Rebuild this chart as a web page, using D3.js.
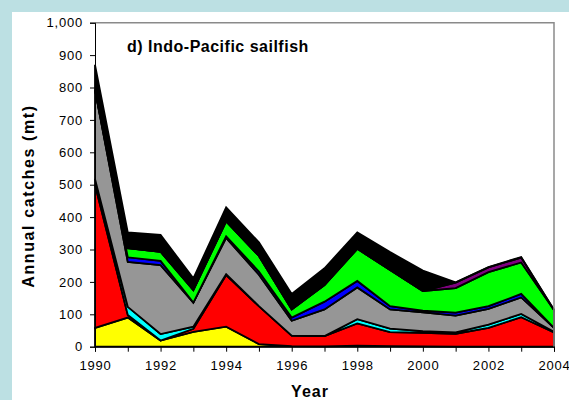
<!DOCTYPE html>
<html><head><meta charset="utf-8">
<script src="https://cdn.jsdelivr.net/npm/d3@7"></script>
<style>
html,body{margin:0;padding:0;background:#bce0e3;}
svg{display:block;}
text{font-family:"Liberation Sans",Arial,sans-serif;}
</style></head>
<body>
<svg id="c" width="569" height="400"></svg>
<script>
const years = [1990,1991,1992,1993,1994,1995,1996,1997,1998,1999,2000,2001,2002,2003,2004];
const yellow = [58,90,19,46,62,8,2,1,3,2,1,0,0,0,0];
const red    = [442,8,0,9,159,117,32,32,69,43,42,40,58,91,44];
const cyan   = [18,25,20,7,3,0,0,0,13,11,5,4,10,10,2];
const gray   = [275,139,213,74,112,97,46,82,98,59,58,52,49,51,12];
const blue   = [0,14,13,0,5,10,10,24,20,10,5,9,8,11,0];
const green  = [0,28,28,39,46,48,25,51,99,112,61,76,105,97,55];
const purple = [0,0,0,0,0,0,0,0,0,0,0,17,15,15,0];
const black  = [77,49,52,36,43,42,48,52,51,55,63,1,1,2,1];
const yTicks = [0,100,200,300,400,500,600,700,800,900,1000];
const xLabelYears = [1990,1992,1994,1996,1998,2000,2002,2004];
const seriesNames = ["yellow","red","cyan","gray","blue","green","purple","black"];
const seriesData = {yellow,red,cyan,gray,blue,green,purple,black};
const colors = {yellow:"#ffff00",red:"#ff0000",cyan:"#00ffff",gray:"#969696",blue:"#0000ff",green:"#00ff00",purple:"#800080",black:"#000000"};

const rows = years.map((yr,i)=>{const o={year:yr};seriesNames.forEach(k=>o[k]=seriesData[k][i]);return o;});
const stack = d3.stack().keys(seriesNames)(rows);

const svg = d3.select("#c");
svg.append("rect").attr("x",12).attr("y",12).attr("width",557).attr("height",388).attr("fill","#fff");

const L=95,R=554,T=22.7,B=346.7;
const x = d3.scaleLinear().domain([1990,2004]).range([L,R]);
const y = d3.scaleLinear().domain([0,1000]).range([B,T]);

const area = d3.area().x(d=>x(d.data.year)).y0(d=>y(d[0])).y1(d=>y(d[1]));
svg.append("g").selectAll("path").data(stack).join("path")
  .attr("d",area).attr("fill",d=>colors[d.key])
  .attr("stroke","#000").attr("stroke-width",1.8).attr("stroke-linejoin","miter");

// frame
svg.append("path").attr("d",`M${L},${T}H${R}V${B}`).attr("fill","none").attr("stroke","#8a8a8a").attr("stroke-width",1.5);

const yAxis = svg.append("g").attr("transform",`translate(${L},0)`)
  .call(d3.axisLeft(y).tickValues(yTicks).tickFormat(d3.format(",")).tickSize(5).tickPadding(7));
const xAxis = svg.append("g").attr("transform",`translate(0,${B})`)
  .call(d3.axisBottom(x).tickValues(years).tickFormat(d=>xLabelYears.includes(d)?String(d):"").tickSize(5).tickPadding(9));
[yAxis,xAxis].forEach(g=>{
  g.selectAll("path,line").attr("stroke","#000").attr("stroke-width",1);
  g.selectAll("text").attr("font-family","'Liberation Sans',Arial,sans-serif").attr("font-size",13).attr("letter-spacing",0.8).attr("fill","#000");
});

svg.append("text").attr("x",127).attr("y",52).attr("font-size",16).attr("letter-spacing",0.5).attr("font-weight","bold").text("d) Indo-Pacific sailfish");
svg.append("text").attr("x",310).attr("y",397).attr("text-anchor","middle").attr("font-size",16).attr("letter-spacing",1).attr("font-weight","bold").text("Year");
svg.append("text").attr("transform","translate(34,196) rotate(-90)").attr("text-anchor","middle").attr("font-size",16).attr("letter-spacing",1.6).attr("font-weight","bold").text("Annual catches (mt)");
</script>
</body></html>
